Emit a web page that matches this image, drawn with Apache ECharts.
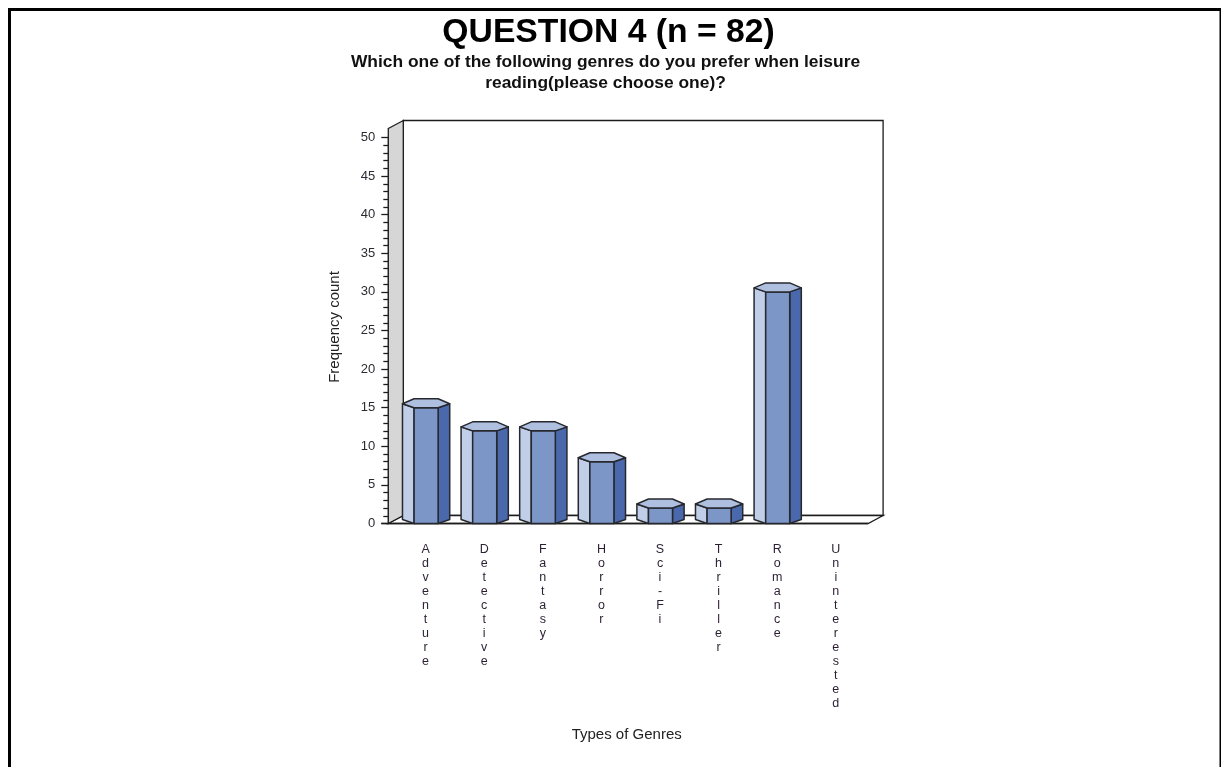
<!DOCTYPE html>
<html>
<head>
<meta charset="utf-8">
<style>html,body{margin:0;padding:0;background:#fff;overflow:hidden}#chart{width:1221px;height:767px}</style>
<script src="https://cdn.jsdelivr.net/npm/echarts@6/dist/echarts.min.js"></script>
</head>
<body>
<div id="chart"></div>
<script>
const genres = ['Adventure', 'Detective', 'Fantasy', 'Horror', 'Sci-Fi', 'Thriller', 'Romance', 'Uninterested'];
const frequencies = [15, 12, 12, 8, 2, 2, 30, 0];
const yTicks = { min: 0, max: 50, step: 5 };

const FONT = '"Liberation Sans", Arial, sans-serif';
const INK = '#1c1c1c';
const DEPTH_X = 15, DEPTH_Y = 8, AXIS_OFFSET = 8;

// Back wall, side wall and floor of the 3D plot box, sized from the grid.
function renderBox(params) {
  const g = params.coordSys;
  const left = g.x - AXIS_OFFSET, right = g.x + g.width + 3;
  const bottom = g.y + g.height, top = g.y - 9;
  const line = { stroke: INK, lineWidth: 1.3 };
  const poly = (points, fill) => ({
    type: 'polygon', shape: { points }, style: { fill, ...line }
  });
  return {
    type: 'group',
    children: [
      poly([[left + DEPTH_X, top - DEPTH_Y], [right + DEPTH_X, top - DEPTH_Y],
            [right + DEPTH_X, bottom - DEPTH_Y], [left + DEPTH_X, bottom - DEPTH_Y]], '#fff'),
      poly([[left, bottom], [left + DEPTH_X, bottom - DEPTH_Y],
            [right + DEPTH_X, bottom - DEPTH_Y], [right, bottom]], '#fff'),
      poly([[left, top], [left + DEPTH_X, top - DEPTH_Y],
            [left + DEPTH_X, bottom - DEPTH_Y], [left, bottom]], '#d6d6d6'),
      { type: 'line', shape: { x1: left - 7, y1: bottom, x2: right, y2: bottom },
        style: { stroke: INK, lineWidth: 1.5 } }
    ]
  };
}

// Hexagonal column: three visible faces plus the top cap.
function renderColumn(params, api) {
  const value = api.value(1);
  if (!value) return null;
  const base = api.coord([api.value(0), 0]);
  const head = api.coord([api.value(0), value]);
  const band = api.size([1, 0])[0];
  const cx = base[0] + 0.5;
  const inner = band * 0.205, outer = band * 0.403;
  const y0 = base[1], y1 = head[1];
  const rim = 4, back = 9;
  const style = fill => ({ fill, stroke: '#26282e', lineWidth: 1.5, lineJoin: 'round' });
  const poly = (points, fill) => ({ type: 'polygon', shape: { points }, style: style(fill) });
  return {
    type: 'group',
    children: [
      poly([[cx - outer, y1 - rim], [cx - inner, y1], [cx - inner, y0], [cx - outer, y0 - rim]], '#c1cee7'),
      poly([[cx + inner, y1], [cx + outer, y1 - rim], [cx + outer, y0 - rim], [cx + inner, y0]], '#4a69ad'),
      poly([[cx - inner, y1], [cx + inner, y1], [cx + inner, y0], [cx - inner, y0]], '#7c96c8'),
      poly([[cx - inner, y1], [cx + inner, y1], [cx + outer, y1 - rim],
            [cx + inner, y1 - back], [cx - inner, y1 - back], [cx - outer, y1 - rim]], '#aebfe0')
    ]
  };
}

const chart = echarts.init(document.getElementById('chart'), null, { renderer: 'canvas' });
chart.setOption({
  animation: false,
  backgroundColor: '#fff',
  title: [
    { text: 'QUESTION 4 (n = 82)', left: 603.5, top: 11, textAlign: 'center',
      textStyle: { fontFamily: FONT, fontSize: 33.7, fontWeight: 'bold', color: '#000' } },
    { text: 'Which one of the following genres do you prefer when leisure\nreading(please choose one)?',
      left: 600.5, top: 47, textAlign: 'center',
      textStyle: { fontFamily: FONT, fontSize: 17.4, fontWeight: 'bold', color: '#111', lineHeight: 21 } }
  ],
  graphic: [{
    type: 'polyline', silent: true,
    shape: { points: [[9.5, 770], [9.5, 9.5], [1221, 9.5], [1221, 770]] },
    style: { fill: null, stroke: '#000', lineWidth: 3 }
  }],
  grid: { left: 396.3, top: 137.5, width: 468.8, height: 386, containLabel: false },
  xAxis: {
    type: 'category',
    data: genres,
    name: 'Types of Genres',
    nameLocation: 'middle',
    nameGap: 204,
    nameTextStyle: { fontFamily: FONT, fontSize: 15, color: '#222', padding: [0, 8, 0, 0] },
    axisLine: { show: false },
    axisTick: { show: false },
    axisLabel: {
      interval: 0, margin: 19, fontFamily: FONT, fontSize: 12.5, color: '#2b1f33',
      lineHeight: 14, verticalAlign: 'top',
      formatter: v => v.split('').join('\n')
    }
  },
  yAxis: {
    type: 'value',
    min: yTicks.min, max: yTicks.max, interval: yTicks.step,
    offset: AXIS_OFFSET,
    name: 'Frequency count',
    nameLocation: 'middle',
    nameGap: 46,
    nameRotate: 90,
    nameTextStyle: { fontFamily: FONT, fontSize: 15, color: '#222', padding: [0, 0, 0, 7] },
    splitLine: { show: false },
    axisLine: { show: true, lineStyle: { color: INK, width: 1.3 } },
    axisTick: { show: true, length: 7, lineStyle: { color: INK, width: 1.3 } },
    minorTick: { show: true, splitNumber: 5, length: 5, lineStyle: { color: INK, width: 1.3 } },
    axisLabel: { margin: 13, fontFamily: FONT, fontSize: 13, color: '#2b2b33' }
  },
  series: [
    { type: 'custom', silent: true, clip: false, z: 1, renderItem: renderBox,
      data: [[0, 0]], encode: { x: 0, y: 1 } },
    { type: 'custom', silent: true, clip: false, z: 3, renderItem: renderColumn,
      data: genres.map((g, i) => [i, frequencies[i]]), encode: { x: 0, y: 1 } }
  ]
});
</script>
</body>
</html>
